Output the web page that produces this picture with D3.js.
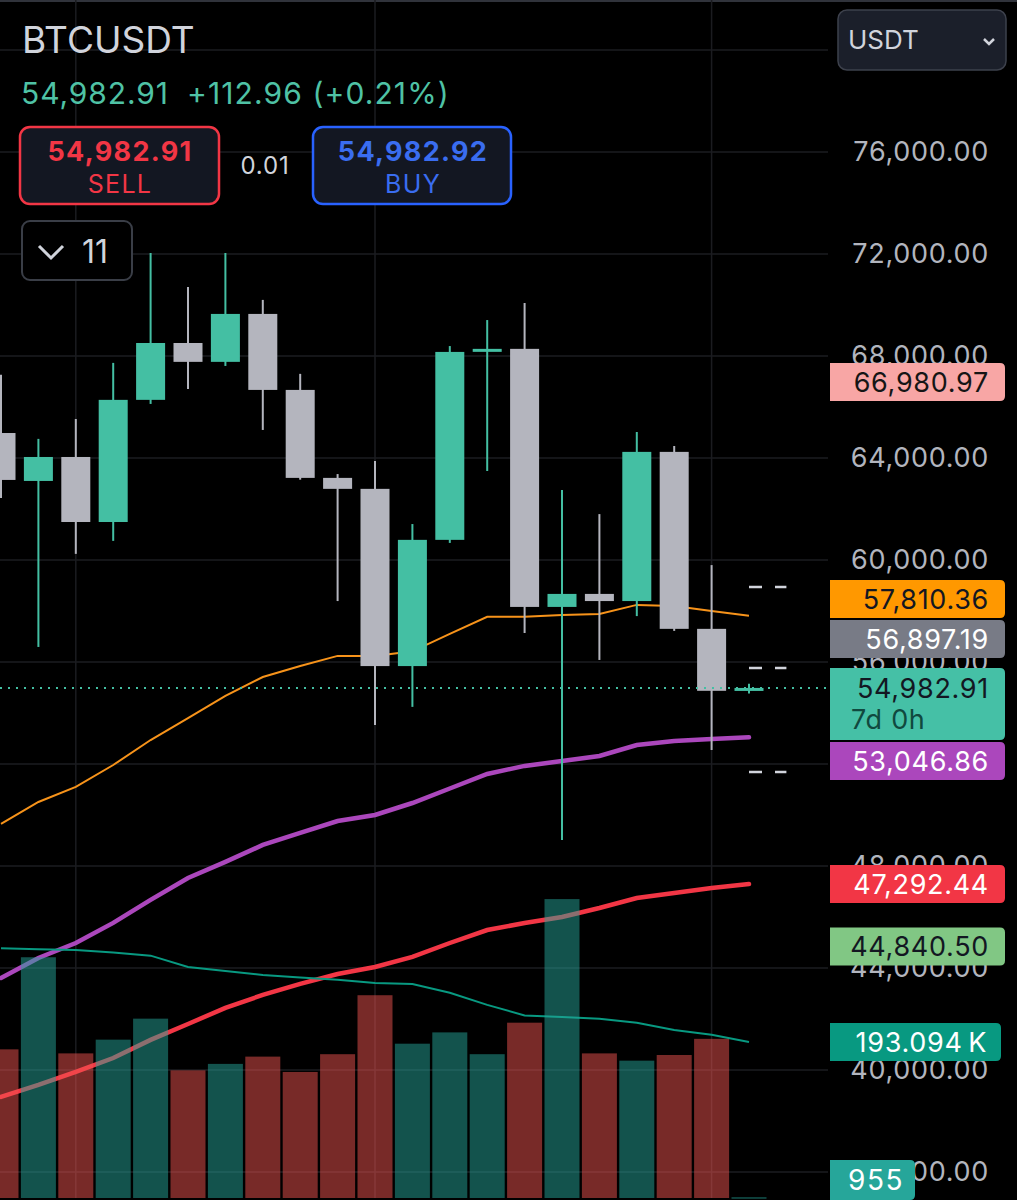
<!DOCTYPE html>
<html>
<head>
<meta charset="utf-8">
<script src="https://cdn.jsdelivr.net/npm/d3@7/dist/d3.min.js"></script>
<style>
  html, body { margin: 0; padding: 0; background: #000; }
  svg { display: block; font-family: Inter, "Noto Sans", sans-serif; }
</style>
</head>
<body>
<svg id="chart"></svg>
<script>
// weekly candles, oldest first (last one is the live candle)
const opens  = [64980, 63100, 64040, 61490, 66280, 68510, 67770, 69650, 66670, 63220, 62790, 55840, 60790, 68180, 68280, 58160, 58670, 58390, 64240, 57300, 54869.95];
const highs  = [67260, 64750, 65530, 67730, 72040, 70710, 72040, 70200, 67300, 63370, 63880, 61410, 68390, 69410, 70080, 62750, 61800, 65020, 64470, 59800, 55150];
const lows   = [62430, 56590, 60240, 60750, 66120, 66710, 67610, 65100, 63150, 58390, 53530, 54240, 60670, 63490, 57140, 49020, 56080, 57800, 57220, 52550, 54760];
const closes = [63140, 64040, 61490, 66280, 68510, 67770, 69650, 66670, 63220, 62790, 55840, 60790, 68160, 68280, 58160, 58670, 58390, 64240, 57300, 54869.95, 54982.91];

// volume in thousands
const volumes = [184, 298, 179, 196, 222, 158, 166, 175, 156, 178, 251, 191, 205, 178, 217, 370, 179, 170, 177, 197, 0.955];
const volumeMA = [309, 308, 307, 304, 300, 286, 281, 276, 273, 270, 266, 265, 254, 239, 226, 224, 222, 217, 208, 202, 193.094];

// moving averages on price
const maOrange = [49650, 50510, 51100, 51960, 52940, 53800, 54670, 55410, 55845, 56240, 56240, 56420, 57100, 57770, 57770, 57845, 57885, 58240, 58200, 58000, 57810.36];
const maPurple = [43610, 44395, 44980, 45770, 46670, 47530, 48160, 48825, 49295, 49765, 50000, 50470, 51040, 51610, 51925, 52120, 52315, 52745, 52905, 52980, 53046.86];
const maRed    = [38945, 39415, 39925, 40470, 41180, 41805, 42435, 42945, 43375, 43765, 44040, 44435, 44980, 45490, 45765, 46000, 46355, 46745, 46945, 47140, 47292.44];

const priceTicks = [76000, 72000, 68000, 64000, 60000, 56000, 52000, 48000, 44000, 40000, 36000];
const gridPrices = [80000, 76000, 72000, 68000, 64000, 60000, 56000, 52000, 48000, 44000, 40000, 36000];
const timeGrid = [2, 10, 19];
const dashLevels = [58940, 55765, 51690];

const lastPrice = 54982.91;
const tagValues = [66980.97, 57810.36, 56897.19, 53046.86, 47292.44, 44840.50];
const tagFills  = ["#f8a6a5", "#ff9800", "#787b86", "#ab47bc", "#f23645", "#81c784"];
const tagInk    = ["#151515", "#131722", "#ffffff", "#ffffff", "#ffffff", "#131722"];

const width = 1017;
const height = 1200;
const plotRight = 828;
const volBase = 1198;

const upColor = "#44bfa3";
const downColor = "#b4b5be";
const fmt = d3.format(",.2f");

const svg = d3.select("#chart")
              .attr("width", width)
              .attr("height", height);

svg.append("rect").attr("width", width).attr("height", height).attr("fill", "#000");

const x = d3.scaleLinear().domain([0, 20]).range([1, 749]);
const y = d3.scaleLinear().domain([36000, 76000]).range([1172, 152]);
const yVol = d3.scaleLinear().domain([0, 193.094]).range([volBase, 1042]);

// top edge
svg.append("line").attr("x1", 0).attr("x2", width).attr("y1", 1).attr("y2", 1)
   .attr("stroke", "#30333b").attr("stroke-width", 2);

// grid
svg.append("g").selectAll("line")
   .data(gridPrices).enter().append("line")
   .attr("x1", 0).attr("x2", plotRight)
   .attr("y1", d => y(d)).attr("y2", d => y(d))
   .attr("stroke", "#1b1c20").attr("stroke-width", 1.5);

svg.append("g").selectAll("line")
   .data(timeGrid).enter().append("line")
   .attr("x1", d => x(d)).attr("x2", d => x(d))
   .attr("y1", 0).attr("y2", volBase)
   .attr("stroke", "#1b1c20").attr("stroke-width", 1.5);

// price axis labels
const axis = svg.append("g")
   .attr("transform", "translate(989,0)")
   .call(d3.axisRight(y).tickValues(priceTicks).tickSize(0).tickPadding(0).tickFormat(fmt));
axis.select(".domain").remove();
axis.selectAll("text")
    .attr("x", 0).attr("dy", "0.3em")
    .attr("text-anchor", "end")
    .attr("fill", "#b2b5be")
    .style("font-family", "Inter, 'Noto Sans', sans-serif")
    .style("font-size", "27px")
    .style("letter-spacing", "0.7px");

// moving averages
const line = d3.line().x((d, i) => x(i));

svg.append("path").datum(maRed)
   .attr("d", line.y(d => y(d)))
   .attr("fill", "none").attr("stroke", "#f23645").attr("stroke-width", 4.5)
   .attr("stroke-linecap", "round");

svg.append("path").datum(maPurple)
   .attr("d", line.y(d => y(d)))
   .attr("fill", "none").attr("stroke", "#ab47bc").attr("stroke-width", 4.5)
   .attr("stroke-linecap", "round");

svg.append("path").datum(maOrange)
   .attr("d", line.y(d => y(d)))
   .attr("fill", "none").attr("stroke", "#f7931a").attr("stroke-width", 2);

svg.append("path").datum(volumeMA)
   .attr("d", line.y(d => yVol(d)))
   .attr("fill", "none").attr("stroke", "#089981").attr("stroke-width", 2);

// volume bars
svg.append("g").selectAll("rect")
   .data(volumes).enter().append("rect")
   .attr("x", (d, i) => x(i) - 17.5)
   .attr("width", 35)
   .attr("y", d => yVol(d))
   .attr("height", d => Math.max(1.5, volBase - yVol(d)))
   .attr("fill", (d, i) => closes[i] >= opens[i] ? "#26a69a" : "#ef5350")
   .attr("fill-opacity", 0.5);

// candles
const candles = svg.append("g").selectAll("g")
   .data(closes).enter().append("g");

candles.append("line")
   .attr("x1", (d, i) => x(i)).attr("x2", (d, i) => x(i))
   .attr("y1", (d, i) => y(highs[i])).attr("y2", (d, i) => y(lows[i]))
   .attr("stroke", (d, i) => d >= opens[i] ? upColor : downColor)
   .attr("stroke-width", 2);

candles.append("rect")
   .attr("x", (d, i) => x(i) - 14.5)
   .attr("width", 29)
   .attr("y", (d, i) => y(Math.max(d, opens[i])))
   .attr("height", (d, i) => Math.max(3, Math.abs(y(d) - y(opens[i]))))
   .attr("fill", (d, i) => d >= opens[i] ? upColor : downColor);

// last price dotted line
svg.append("line")
   .attr("x1", 0).attr("x2", plotRight)
   .attr("y1", y(lastPrice)).attr("y2", y(lastPrice))
   .attr("stroke", upColor).attr("stroke-width", 2)
   .attr("stroke-dasharray", "2,6");

// dashed forecast levels
svg.append("g").selectAll("line")
   .data(dashLevels).enter().append("line")
   .attr("x1", x(20)).attr("x2", x(21))
   .attr("y1", d => y(d)).attr("y2", d => y(d))
   .attr("stroke", "#d1d4dc").attr("stroke-width", 2.5)
   .attr("stroke-dasharray", "13,13");

// price tags on the right scale
function tagPath(x0, y0, w, h, r) {
  return `M${x0},${y0}H${x0 + w - r}Q${x0 + w},${y0} ${x0 + w},${y0 + r}` +
         `V${y0 + h - r}Q${x0 + w},${y0 + h} ${x0 + w - r},${y0 + h}H${x0}Z`;
}

const tagH = 38;
const lastTop = y(lastPrice) - 20;
const lastH = 72;
const tags = tagValues.map((v, i) => ({ v, i, top: y(v) - tagH / 2 }));
// push tags away from each other and from the live price tag
const above = tags.filter(t => t.v > lastPrice).sort((a, b) => a.v - b.v);
let limit = lastTop - 2;
above.forEach(t => { if (t.top + tagH > limit) t.top = limit - tagH; limit = t.top - 2; });
const below = tags.filter(t => t.v < lastPrice).sort((a, b) => b.v - a.v);
limit = lastTop + lastH + 2;
below.forEach(t => { if (t.top < limit) t.top = limit; limit = t.top + tagH + 2; });

const tagG = svg.append("g").style("letter-spacing", "0.7px");
tags.forEach(t => {
  tagG.append("path").attr("d", tagPath(830, t.top, 175, tagH, 5)).attr("fill", tagFills[t.i]);
  tagG.append("text").attr("x", 989).attr("y", t.top + tagH / 2).attr("dy", "0.36em")
      .attr("text-anchor", "end").attr("font-size", 27).attr("fill", tagInk[t.i])
      .text(fmt(t.v));
});

tagG.append("path").attr("d", tagPath(830, lastTop, 175, lastH, 5)).attr("fill", "#45c0a6");
tagG.append("text").attr("x", 989).attr("y", y(lastPrice)).attr("dy", "0.36em")
    .attr("text-anchor", "end").attr("font-size", 27).attr("fill", "#131722")
    .text(fmt(lastPrice));
tagG.append("text").attr("x", 851).attr("y", y(lastPrice) + 31).attr("dy", "0.36em")
    .attr("font-size", 27).attr("fill", "#10493f").text("7d 0h");

// volume tags
const vmaTop = yVol(volumeMA[20]) - tagH / 2;
tagG.append("path").attr("d", tagPath(830, vmaTop, 171, tagH, 5)).attr("fill", "#089981");
tagG.append("text").attr("x", 987).attr("y", vmaTop + tagH / 2).attr("dy", "0.36em")
    .attr("text-anchor", "end").attr("font-size", 27).attr("fill", "#ffffff")
    .text(d3.format(".3f")(volumeMA[20]) + "\u2009K");

const volTop = Math.min(yVol(volumes[20]) - tagH / 2, volBase - tagH);
tagG.append("path").attr("d", tagPath(830, volTop, 85, tagH + 2, 5)).attr("fill", "#26a69a");
tagG.append("text").attr("x", 904).attr("y", volTop + tagH / 2 + 1).attr("dy", "0.36em")
    .attr("text-anchor", "end").attr("font-size", 28).attr("fill", "#ffffff")
    .style("letter-spacing", "1.5px")
    .text(Math.round(volumes[20] * 1000));

// header
const head = svg.append("g");
head.append("text").attr("x", 22).attr("y", 53).attr("font-size", 37).attr("fill", "#d1d4dc").text("BTCUSDT");
head.append("text").attr("x", 21).attr("y", 104).attr("font-size", 30).attr("fill", "#4fc2a5")
    .style("letter-spacing", "0.9px").text(fmt(lastPrice));
head.append("text").attr("x", 187).attr("y", 104).attr("font-size", 30).attr("fill", "#4fc2a5")
    .style("letter-spacing", "1.1px").text("+112.96 (+0.21%)");

head.append("rect").attr("x", 20).attr("y", 127).attr("width", 199).attr("height", 77).attr("rx", 10)
    .attr("fill", "#131722").attr("stroke", "#f23645").attr("stroke-width", 2.5);
head.append("text").attr("x", 120).attr("y", 161).attr("text-anchor", "middle").attr("font-size", 27)
    .attr("font-weight", 700).attr("fill", "#f23645").style("letter-spacing", "1.3px").text("54,982.91");
head.append("text").attr("x", 120).attr("y", 193).attr("text-anchor", "middle").attr("font-size", 25)
    .attr("fill", "#f23645").style("letter-spacing", "1.3px").text("SELL");

head.append("text").attr("x", 265).attr("y", 174).attr("text-anchor", "middle").attr("font-size", 24)
    .attr("fill", "#d1d4dc").style("letter-spacing", "0.8px").text("0.01");

head.append("rect").attr("x", 313).attr("y", 127).attr("width", 198).attr("height", 77).attr("rx", 10)
    .attr("fill", "#131722").attr("stroke", "#2962ff").attr("stroke-width", 2.5);
head.append("text").attr("x", 413).attr("y", 161).attr("text-anchor", "middle").attr("font-size", 27)
    .attr("font-weight", 700).attr("fill", "#3a6df0").style("letter-spacing", "1.3px").text("54,982.92");
head.append("text").attr("x", 413).attr("y", 193).attr("text-anchor", "middle").attr("font-size", 25)
    .attr("fill", "#3a6df0").style("letter-spacing", "1.3px").text("BUY");

head.append("rect").attr("x", 22).attr("y", 221).attr("width", 110).attr("height", 59).attr("rx", 8)
    .attr("fill", "#000").attr("stroke", "#3a3e47").attr("stroke-width", 2);
head.append("path").attr("d", "M39,246 L51,258 L63,246").attr("fill", "none")
    .attr("stroke", "#d1d4dc").attr("stroke-width", 3);
head.append("text").attr("x", 82).attr("y", 263).attr("font-size", 32).attr("fill", "#d1d4dc").text("11");

head.append("rect").attr("x", 838).attr("y", 10).attr("width", 168).attr("height", 60).attr("rx", 9)
    .attr("fill", "#1b1f2a").attr("stroke", "#3d414c").attr("stroke-width", 1.5);
head.append("text").attr("x", 848).attr("y", 49).attr("font-size", 26).attr("fill", "#d1d4dc").text("USDT");
head.append("path").attr("d", "M984,39 L989,44 L994,39").attr("fill", "none")
    .attr("stroke", "#d1d4dc").attr("stroke-width", 2.5);
</script>
</body>
</html>
